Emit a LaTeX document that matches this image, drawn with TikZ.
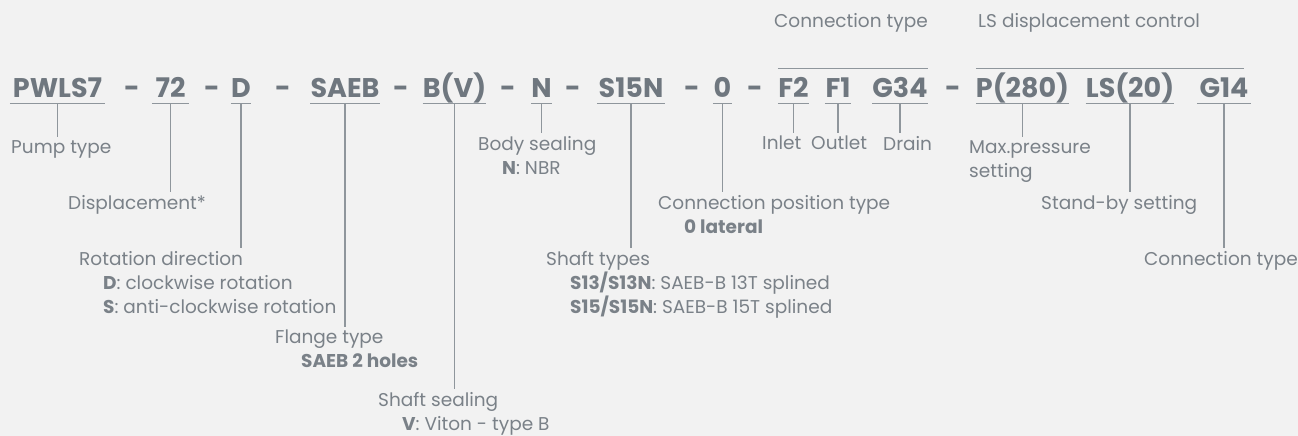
\documentclass[tikz,border=0pt]{standalone}
\usepackage{fontspec}
\setmainfont{Poppins}
\newfontfamily\codefont{Poppins}
\usetikzlibrary{calc}
\definecolor{bggray}{HTML}{F2F2F2}
\definecolor{codegray}{HTML}{6F777F}
\definecolor{labelgray}{HTML}{7A8188}
\definecolor{linegray}{HTML}{8F969C}

\begin{document}
\begin{tikzpicture}[%
      x=1pt, y=-1pt,
      code/.style={font=\codefont\fontsize{27}{27}\selectfont\bfseries, text=codegray,
        inner sep=0pt, text height=19pt, text depth=6pt, anchor=base},
      lbl/.style={font=\fontsize{18.5}{24}\selectfont, text=labelgray,
        inner xsep=0pt, inner ysep=3pt, anchor=north west, align=left},
      toplbl/.style={lbl, anchor=base west},
      stem/.style={color=linegray, line width=1.2pt},
      uline/.style={color=linegray, line width=1.4pt},
      ]
      \useasboundingbox [fill=bggray] (0,0) rectangle (1298,436);

      % order code
      \node [code, minimum width=95pt] (pwls) at (57.5,97) {PWLS7};
      \node [code] (dash1) at (132,97) {-};
      \node [code, minimum width=37pt] (n72) at (170.5,97) {72};
      \node [code] (dash2) at (212,97) {-};
      \node [code, minimum width=16pt] (nd) at (241,97) {D};
      \node [code] (dash3) at (283,97) {-};
      \node [code, minimum width=68pt] (saeb) at (345,97) {SAEB};
      \node [code] (dash4) at (401,97) {-};
      \node [code, minimum width=61pt] (bv) at (454.5,97) {B(V)};
      \node [code] (dash5) at (508,97) {-};
      \node [code, minimum width=19pt] (nn) at (541.5,97) {N};
      \node [code] (dash6) at (573,97) {-};
      \node [code, minimum width=68pt] (s15n) at (631,97) {S15N};
      \node [code] (dash7) at (692,97) {-};
      \node [code, minimum width=19pt] (n0) at (722.5,97) {0};
      \node [code] (dash8) at (755,97) {-};
      \node [code, minimum width=31pt] (f2) at (793.5,97) {F2};
      \node [code, minimum width=26pt] (f1) at (838,97) {F1};
      \node [code, minimum width=50pt] (g34) at (900,97) {G34};
      \node [code] (dash9) at (953,97) {-};
      \node [code, minimum width=89pt] (p280) at (1022.5,97) {P(280)};
      \node [code, minimum width=80pt] (ls20) at (1130,97) {LS(20)};
      \node [code, minimum width=54pt] (g14) at (1224,97) {G14};

      \foreach \n in {pwls,n72,nd,saeb,bv,nn,s15n,n0,f2,f1,g34,p280,ls20,g14}
        \draw [uline] (\n.south west) -- (\n.south east);

      % labels below
      \node [lbl] (pump) at (11,137) {Pump type};
      \node [lbl] (disp) at (68,192) {Displacement*};
      \node [lbl] (rot) at (79,248) {Rotation direction\\
        \hspace*{24pt}\textbf{D}: clockwise rotation\\
        \hspace*{24pt}\textbf{S}: anti-clockwise rotation};
      \node [lbl] (flange) at (275,327) {Flange type\\
        \hspace*{26pt}\textbf{SAEB 2 holes}};
      \node [lbl] (sseal) at (378,389) {Shaft sealing\\
        \hspace*{24pt}\textbf{V}: Viton - type B};
      \node [lbl] (body) at (478,133) {Body sealing\\
        \hspace*{24pt}\textbf{N}: NBR};
      \node [lbl] (stypes) at (546,248) {Shaft types\\
        \hspace*{24pt}\textbf{S13/S13N}: SAEB-B 13T splined\\
        \hspace*{24pt}\textbf{S15/S15N}: SAEB-B 15T splined};
      \node [lbl] (cpos) at (658,192) {Connection position type\\
        \hspace*{26pt}\textbf{0 lateral}};
      \node [lbl] (inlet) at (762,133) {Inlet};
      \node [lbl] (outlet) at (811,133) {Outlet};
      \node [lbl] (drain) at (883,133) {Drain};
      \node [lbl] (maxp) at (969,137) {Max.pressure\\setting};
      \node [lbl] (stby) at (1041,192) {Stand-by setting};
      \node [lbl] (ctype) at (1144,248) {Connection type};

      % labels above
      \node [toplbl] (ctop) at (774,28) {Connection type};
      \node [toplbl] (lstop) at (978,28) {LS displacement control};

      \foreach \n/\l in {pwls/pump,n72/disp,nd/rot,saeb/flange,bv/sseal,nn/body,
          s15n/stypes,n0/cpos,f2/inlet,f1/outlet,g34/drain,p280/maxp,ls20/stby,g14/ctype}
        \draw [stem] (\n.south) -- (\n.south |- \l.north);

      % brackets
      \coordinate (cbarl) at ([yshift=9pt]f2.north west);
      \coordinate (cbarr) at ([yshift=9pt]g34.north east);
      \coordinate (lbarl) at ([yshift=9pt]p280.north west);
      \coordinate (lbarr) at ([yshift=9pt,xshift=-7pt]g14.north east);
      \draw [stem] (cbarl) -- (cbarr);
      \draw [stem] (lbarl) -- (lbarr);
      \draw [stem] ($(cbarl)!0.5!(cbarr)$) -- ($(cbarl)!0.5!(cbarr)$ |- ctop.south);
      \draw [stem] ($(lbarl)!0.5!(lbarr)$) -- ($(lbarl)!0.5!(lbarr)$ |- lstop.south);
      \end{tikzpicture}
\end{document}
